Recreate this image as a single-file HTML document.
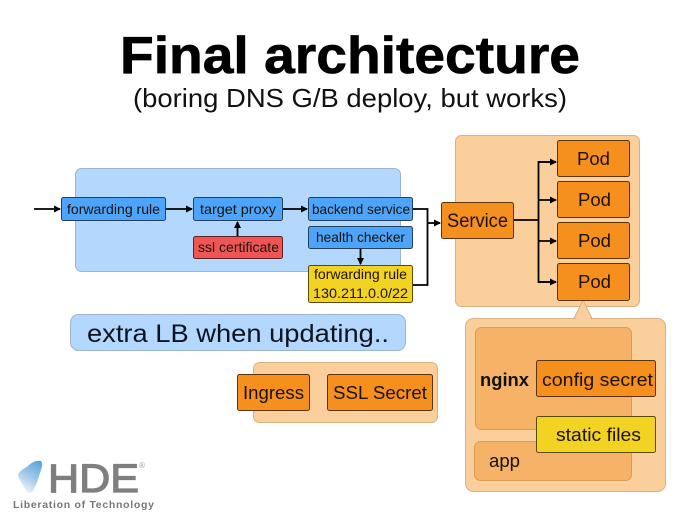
<!DOCTYPE html>
<html><head><meta charset="utf-8"><style>
html,body{margin:0;padding:0;background:#fff}
svg{display:block;filter:blur(.3px)}
text{font-family:"Liberation Sans",sans-serif;fill:#1a1208}
.b{stroke:#24405c;stroke-width:1}
.o{fill:#f58f1e;stroke:#5a3408;stroke-width:1}
.y{fill:#f3d321;stroke:#5a4a08;stroke-width:1}
.l{fill:none;stroke:#000;stroke-width:1.8}
.t{font-size:14px}
.m{font-size:18px}
</style></head><body>
<svg width="700" height="525" viewBox="0 0 700 525" xmlns="http://www.w3.org/2000/svg">
<defs>
<marker id="a" markerWidth="8" markerHeight="8" refX="6" refY="3.5" orient="auto" markerUnits="userSpaceOnUse"><path d="M0 0L7 3.5L0 7z" fill="#000"/></marker>
<linearGradient id="g" x1="0.8" y1="0" x2="0.35" y2="1"><stop offset="0" stop-color="#5aa5e0"/><stop offset="0.55" stop-color="#a5cbe9"/><stop offset="1" stop-color="#eef5fb"/></linearGradient>
</defs>
<rect width="700" height="525" fill="#fff"/>
<text x="120" y="73" font-size="52" font-weight="700" textLength="460" lengthAdjust="spacingAndGlyphs" style="fill:#000;stroke:#000;stroke-width:.7">Final architecture</text>
<text x="133" y="107" font-size="26" textLength="434" lengthAdjust="spacingAndGlyphs" style="fill:#111">(boring DNS G/B deploy, but works)</text>

<rect x="75.500" y="168.500" width="325" height="103" rx="6" fill="#b3d7fd" stroke="#9db5cc"/>

<rect x="455.500" y="135.500" width="184" height="171" rx="6" fill="#fbcf9b" stroke="#d9b184"/>
<path d="M574 318.500L583 300L592 318.500z" fill="#fbcf9b" stroke="#d9b184"/>
<rect x="465.500" y="318.500" width="200" height="173" rx="8" fill="#fbcf9b" stroke="#d9b184"/>
<path d="M575.500 319.500L583 303L590.500 319.500z" fill="#fbcf9b"/>
<rect x="475.500" y="327.500" width="156" height="102" rx="6" fill="#f6b368" stroke="#d99c58"/>
<rect x="474.500" y="441.500" width="157" height="39" rx="6" fill="#f6b368" stroke="#d99c58"/>
<rect x="253.500" y="362.500" width="184" height="60" rx="6" fill="#fbcf9b" stroke="#d9b184"/>
<rect x="70.500" y="314.500" width="335" height="36" rx="8" fill="#b3d7fd" stroke="#9db5cc"/>

<path class="l" d="M34 209H60" marker-end="url(#a)"/>
<path class="l" d="M166 209H192" marker-end="url(#a)"/>
<path class="l" d="M283 209H307" marker-end="url(#a)"/>
<path class="l" d="M237.500 236V222" marker-end="url(#a)"/>
<path class="l" d="M360.500 249V264" marker-end="url(#a)"/>
<path class="l" d="M413 209H427.500V285H413" />
<path class="l" d="M427.500 223H440" marker-end="url(#a)"/>
<path class="l" d="M514 220H538.500"/>
<path class="l" d="M556 162H538.500V282H556" />
<path class="l" d="M538 162H556" marker-end="url(#a)"/>
<path class="l" d="M538 200H556" marker-end="url(#a)"/>
<path class="l" d="M538 241H556" marker-end="url(#a)"/>
<path class="l" d="M538 282H556" marker-end="url(#a)"/>

<rect x="61.500" y="197.500" width="104" height="23" rx="2" fill="#4ca4fb" class="b"/>
<rect x="193.500" y="197.500" width="89" height="23" rx="2" fill="#4ca4fb" class="b"/>
<rect x="308.500" y="197.500" width="104" height="23" rx="2" fill="#4ca4fb" class="b"/>
<rect x="308.500" y="226.500" width="104" height="22" rx="2" fill="#4ca4fb" class="b"/>
<rect x="193.500" y="236.500" width="89" height="22" rx="2" fill="#ee5555" stroke="#5c2020"/>
<rect x="308.500" y="265.500" width="104" height="37" rx="2" class="y"/>

<rect x="441.500" y="202.500" width="72" height="36" rx="2" class="o"/>
<rect x="557.500" y="140.500" width="72" height="36" rx="2" class="o"/>
<rect x="557.500" y="181.500" width="72" height="36" rx="2" class="o"/>
<rect x="557.500" y="222.500" width="72" height="36" rx="2" class="o"/>
<rect x="557.500" y="263.500" width="72" height="37" rx="2" class="o"/>
<rect x="536.500" y="360.500" width="119" height="36" rx="2" class="o"/>
<rect x="536.500" y="416.500" width="119" height="36" rx="2" class="y"/>
<rect x="237.500" y="374.500" width="72" height="36" rx="2" class="o"/>
<rect x="327.500" y="374.500" width="105" height="36" rx="2" class="o"/>

<text class="t" x="67" y="214" textLength="93" lengthAdjust="spacingAndGlyphs">forwarding rule</text>
<text class="t" x="200" y="214" textLength="76" lengthAdjust="spacingAndGlyphs">target proxy</text>
<text class="t" x="312" y="214" textLength="98" lengthAdjust="spacingAndGlyphs">backend service</text>
<text class="t" x="316" y="242" textLength="89" lengthAdjust="spacingAndGlyphs">health checker</text>
<text class="t" x="198" y="252" textLength="81" lengthAdjust="spacingAndGlyphs">ssl certificate</text>
<text class="t" x="314" y="279" textLength="93" lengthAdjust="spacingAndGlyphs">forwarding rule</text>
<text class="t" x="313" y="298" textLength="95" lengthAdjust="spacingAndGlyphs">130.211.0.0/22</text>

<text x="447" y="227" font-size="19" textLength="61" lengthAdjust="spacingAndGlyphs">Service</text>
<text class="m" x="577" y="165" textLength="33" lengthAdjust="spacingAndGlyphs">Pod</text>
<text class="m" x="578" y="206" textLength="33" lengthAdjust="spacingAndGlyphs">Pod</text>
<text class="m" x="578" y="247" textLength="33" lengthAdjust="spacingAndGlyphs">Pod</text>
<text class="m" x="578" y="288" textLength="33" lengthAdjust="spacingAndGlyphs">Pod</text>

<text x="480" y="386" font-size="18" font-weight="700" textLength="49" lengthAdjust="spacingAndGlyphs" style="fill:#111">nginx</text>
<text class="m" x="542" y="386" textLength="111" lengthAdjust="spacingAndGlyphs">config secret</text>
<text class="m" x="556" y="441" textLength="85" lengthAdjust="spacingAndGlyphs">static files</text>
<text class="m" x="489" y="467" textLength="31" lengthAdjust="spacingAndGlyphs">app</text>
<text class="m" x="243" y="399" textLength="61" lengthAdjust="spacingAndGlyphs">Ingress</text>
<text class="m" x="333" y="399" textLength="94" lengthAdjust="spacingAndGlyphs">SSL Secret</text>
<text x="87" y="342" font-size="25" textLength="302" lengthAdjust="spacingAndGlyphs" style="fill:#0c1420">extra LB when updating..</text>

<path d="M18 475C20 470 24 469 28 466C32 462 37 460 41 461C43 463 42 467 41 470C39 476 37 484 34 489C32 494 27 494 25 489C24 485 19 481 18 475z" fill="url(#g)"/>
<text x="48" y="492" font-size="40" textLength="91" lengthAdjust="spacingAndGlyphs" style="fill:#7f7f7f;stroke:#7f7f7f;stroke-width:1.2">HDE</text>
<text x="139" y="468" font-size="8" style="fill:#999">®</text>
<text x="13" y="508" font-size="10.500" font-weight="700" textLength="141" style="fill:#777">Liberation of Technology</text>
</svg>
</body></html>
